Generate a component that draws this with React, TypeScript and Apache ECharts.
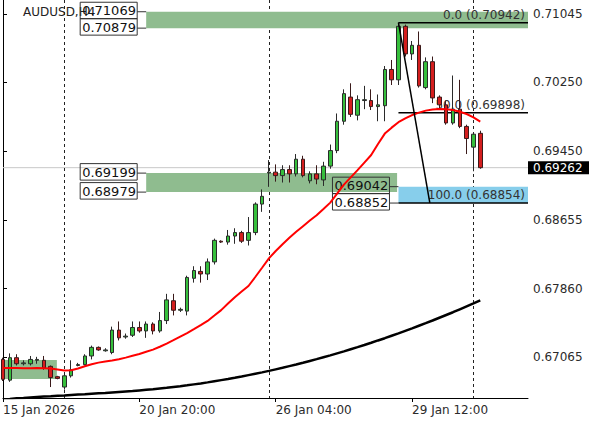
import React, { useEffect, useRef } from 'react';
import * as echarts from 'echarts';

const symbolTitle = 'AUDUSD,H4';
const barCount = 78; // time slots on the axis, incl. the empty space on the right
const xTickLabels = [
  { index: 0, label: '15 Jan 2026' },
  { index: 20, label: '20 Jan 20:00' },
  { index: 40, label: '26 Jan 04:00' },
  { index: 60, label: '29 Jan 12:00' },
];
const separators = [9, 39, 69];
const yTicks = [0.67065, 0.6786, 0.68655, 0.6945, 0.7025, 0.71045];
const yMin = 0.66593;
const yMax = 0.71205;
const lastPrice = 0.69262;

// [open, close, low, high]
const candles = [
  [0.6704, 0.6681, 0.6679, 0.6706],
  [0.668, 0.6706, 0.6678, 0.6711],
  [0.6706, 0.6699, 0.6697, 0.671],
  [0.6699, 0.67, 0.6697, 0.6703],
  [0.6699, 0.6704, 0.6697, 0.6708],
  [0.6703, 0.6704, 0.6699, 0.6707],
  [0.6703, 0.6694, 0.6692, 0.6708],
  [0.6696, 0.6683, 0.6672, 0.6697],
  [0.6684, 0.6682, 0.6681, 0.6685],
  [0.6672, 0.6685, 0.6669, 0.6686],
  [0.6685, 0.6692, 0.6683, 0.6703],
  [0.6697, 0.6698, 0.6696, 0.67],
  [0.6698, 0.6708, 0.6697, 0.671],
  [0.6708, 0.6718, 0.6704, 0.672],
  [0.6718, 0.6715, 0.6714, 0.6719],
  [0.6714, 0.6715, 0.6713, 0.6717],
  [0.6712, 0.6738, 0.671, 0.6742],
  [0.6738, 0.6729, 0.6726, 0.6748],
  [0.673, 0.6731, 0.6728, 0.6734],
  [0.6732, 0.6741, 0.673, 0.6748],
  [0.6741, 0.6737, 0.6735, 0.6748],
  [0.6737, 0.6745, 0.6729, 0.6748],
  [0.6745, 0.6737, 0.6733, 0.6747],
  [0.6737, 0.6749, 0.6735, 0.6759],
  [0.6749, 0.6773, 0.6745, 0.678],
  [0.6772, 0.6761, 0.6755, 0.678],
  [0.6761, 0.6762, 0.6759, 0.6764],
  [0.676, 0.6799, 0.6755, 0.6801],
  [0.6798, 0.6807, 0.6793, 0.6812],
  [0.6806, 0.6803, 0.6793, 0.6812],
  [0.6803, 0.6817, 0.6796, 0.6821],
  [0.6817, 0.6842, 0.6814, 0.6844],
  [0.6841, 0.684, 0.6839, 0.6842],
  [0.684, 0.6847, 0.6837, 0.6854],
  [0.6847, 0.6851, 0.6838, 0.6856],
  [0.6851, 0.6841, 0.6839, 0.6853],
  [0.6842, 0.6851, 0.6836, 0.6869],
  [0.6851, 0.6884, 0.6848, 0.6886],
  [0.6884, 0.6893, 0.6875, 0.6901],
  [0.692, 0.6921, 0.6904, 0.6935],
  [0.6921, 0.6917, 0.691, 0.693],
  [0.6917, 0.6924, 0.6909, 0.6929],
  [0.6924, 0.6919, 0.6909, 0.6929],
  [0.6919, 0.6936, 0.6916, 0.6942],
  [0.6936, 0.6917, 0.6915, 0.694],
  [0.6911, 0.6919, 0.6908, 0.6922],
  [0.6919, 0.6913, 0.6907, 0.6929],
  [0.6912, 0.6928, 0.6905, 0.6933],
  [0.6928, 0.6946, 0.6925, 0.6953],
  [0.6946, 0.698, 0.6943, 0.6989],
  [0.698, 0.7012, 0.6976, 0.7017],
  [0.7008, 0.6988, 0.6985, 0.7024],
  [0.6987, 0.7005, 0.6981, 0.701],
  [0.7004, 0.7005, 0.6994, 0.7021],
  [0.7004, 0.6997, 0.6993, 0.7017],
  [0.6997, 0.6999, 0.698, 0.7011],
  [0.6998, 0.704, 0.698, 0.7044],
  [0.704, 0.7028, 0.7022, 0.7051],
  [0.7028, 0.709, 0.7022, 0.70942],
  [0.709, 0.7058, 0.7055, 0.7092],
  [0.7058, 0.7068, 0.7051, 0.7073],
  [0.7068, 0.7021, 0.7019, 0.7084],
  [0.7019, 0.7049, 0.7017, 0.7054],
  [0.7049, 0.7007, 0.7001, 0.7055],
  [0.7008, 0.6999, 0.6994, 0.701],
  [0.6999, 0.6978, 0.6976, 0.7004],
  [0.6978, 0.6994, 0.6976, 0.7033],
  [0.6994, 0.6974, 0.6972, 0.7028],
  [0.6974, 0.696, 0.6942, 0.6976],
  [0.695, 0.6965, 0.6922, 0.6967],
  [0.6966, 0.69262, 0.6925, 0.6969],
];

const maFast = [
  0.66941, 0.66941, 0.66941, 0.66939, 0.66939, 0.66941, 0.66939, 0.66934, 0.66924, 0.66912, 0.66914,
  0.66935, 0.66961, 0.66984, 0.67003, 0.67016, 0.67027, 0.67043, 0.67061, 0.67082, 0.67103,
  0.67129, 0.67154, 0.67187, 0.67224, 0.67263, 0.67305, 0.67346, 0.67391, 0.67437, 0.67486,
  0.67548, 0.67611, 0.67687, 0.67761, 0.67826, 0.67891, 0.67995, 0.68102, 0.68211, 0.68297,
  0.68375, 0.6845, 0.68519, 0.68584, 0.68649, 0.68711, 0.68783, 0.68857, 0.68962, 0.69066,
  0.69149, 0.69233, 0.69321, 0.69409, 0.69536, 0.69657, 0.69726, 0.69789, 0.69833, 0.69872,
  0.699, 0.69923, 0.69935, 0.69942, 0.6994, 0.6993, 0.6991, 0.69884, 0.69845, 0.69796,
];

const maSlow = [
  0.66576, 0.66582, 0.66589, 0.66594, 0.666, 0.66605, 0.6661, 0.66614, 0.66619, 0.66623, 0.66628,
  0.66633, 0.66637, 0.66642, 0.66647, 0.66651, 0.66657, 0.66663, 0.66669, 0.66674, 0.66681,
  0.66688, 0.66695, 0.66703, 0.66711, 0.66721, 0.6673, 0.6674, 0.66751, 0.66762, 0.66774,
  0.66787, 0.668, 0.66813, 0.66827, 0.66842, 0.66858, 0.66874, 0.6689, 0.66907, 0.66925,
  0.66943, 0.66962, 0.66981, 0.67001, 0.67022, 0.67043, 0.67065, 0.67087, 0.6711, 0.67133,
  0.67158, 0.67182, 0.67207, 0.67233, 0.6726, 0.67286, 0.67314, 0.67342, 0.67371, 0.674,
  0.6743, 0.6746, 0.67491, 0.67523, 0.67555, 0.67587, 0.67621, 0.67655, 0.67689, 0.67724,
];

// rectangles drawn on the chart: bar-index range and price range
const zoneStarts = [21, 21, 58, -1];
const zoneEnds = [77, 57.8, 77, 7.9];
const zoneTops = [0.71069, 0.69199, 0.69042, 0.67032];
const zoneBottoms = [0.70879, 0.68979, 0.68852, 0.66812];
const zoneColors = ['#8fbc8f', '#8fbc8f', '#87ceeb', '#8fbc8f'];
const zoneLabelled = [true, true, true, false];

// Fibonacci retracement
const fibHigh = 0.70942;
const fibLow = 0.68854;
const fibHighIndex = 58;
const fibLowIndex = 62.6;
const fibLevels = [0, 50, 100];

const FONT = '"DejaVu Sans", Verdana, sans-serif';
const categories = Array.from({ length: barCount }, (_, i) => {
  const t = xTickLabels.find((l) => l.index === i);
  return t ? t.label : '';
});

function renderBackground(params: any, api: any) {
  const cs = params.coordSys;
  const left = cs.x;
  const right = cs.x + cs.width;
  const top = cs.y;
  const bottom = cs.y + cs.height;
  const kids: any[] = [];

  const py = api.coord([0, lastPrice])[1];
  kids.push({ type: 'line', shape: { x1: left, y1: py, x2: right, y2: py }, style: { stroke: '#c8c8c8', lineWidth: 1 } });

  separators.forEach((s) => {
    const x = Math.round(api.coord([s, yMin])[0]) + 0.5;
    kids.push({ type: 'line', shape: { x1: x, y1: top, x2: x, y2: bottom }, style: { stroke: '#222', lineWidth: 1, lineDash: [3, 3] } });
  });

  zoneStarts.forEach((x0v, k) => {
    const a = api.coord([x0v, zoneTops[k]]);
    const b = api.coord([zoneEnds[k], zoneBottoms[k]]);
    const x0 = Math.max(a[0], left);
    const x1 = Math.min(b[0], right);
    kids.push({ type: 'rect', shape: { x: x0, y: a[1], width: x1 - x0, height: b[1] - a[1] }, style: { fill: zoneColors[k] } });
    if (zoneLabelled[k]) {
      const pairs: [number, number][] = [
        [zoneTops[k], a[1]],
        [zoneBottoms[k], b[1]],
      ];
      pairs.forEach(([v, y]) => {
        const bx = a[0] - 9 - 57;
        kids.push({ type: 'line', shape: { x1: a[0] - 9, y1: y, x2: a[0], y2: y }, style: { stroke: '#333', lineWidth: 1 } });
        kids.push({ type: 'rect', shape: { x: bx, y: y - 9.5, width: 57, height: 16.5 }, style: { fill: 'none', stroke: '#333', lineWidth: 1 } });
        kids.push({
          type: 'text',
          style: { text: v.toFixed(5), x: bx + 2, y: y - 1, align: 'left', verticalAlign: 'middle', fill: '#111', font: `13px ${FONT}` },
        });
      });
    }
  });

  fibLevels.forEach((lv) => {
    const price = fibHigh - ((fibHigh - fibLow) * lv) / 100;
    const p = api.coord([fibHighIndex, price]);
    kids.push({ type: 'line', shape: { x1: p[0], y1: p[1], x2: right, y2: p[1] }, style: { stroke: '#000', lineWidth: 1.5 } });
    kids.push({
      type: 'text',
      style: {
        text: `${lv.toFixed(1)} (${price.toFixed(5)})`,
        x: right - 3,
        y: p[1] - 1.5,
        align: 'right',
        verticalAlign: 'bottom',
        fill: '#333',
        font: `12px ${FONT}`,
      },
    });
  });

  return { type: 'group', children: kids };
}

function renderForeground(params: any, api: any) {
  const cs = params.coordSys;
  const right = cs.x + cs.width;
  const a = api.coord([fibHighIndex, fibHigh]);
  const b = api.coord([fibLowIndex, fibLow]);
  const py = api.coord([0, lastPrice])[1];
  return {
    type: 'group',
    children: [
      { type: 'line', shape: { x1: a[0], y1: a[1], x2: b[0], y2: b[1] }, style: { stroke: '#000', lineWidth: 1.5 } },
      { type: 'rect', shape: { x: right, y: py - 6.5, width: 61, height: 13 }, style: { fill: '#000' } },
      {
        type: 'text',
        style: { text: lastPrice.toFixed(5), x: right + 5, y: py, align: 'left', verticalAlign: 'middle', fill: '#fff', font: `12px ${FONT}` },
      },
    ],
  };
}

const labelInterval = (_i: number, v: string) => v !== '';

const option: any = {
  animation: false,
  backgroundColor: '#ffffff',
  textStyle: { fontFamily: FONT },
  grid: { left: 3, right: 68, top: 0, bottom: 27 },
  graphic: [
    { type: 'text', left: 23, top: 6, z: 0, style: { text: symbolTitle, fill: '#222', font: `12px ${FONT}` } },
  ],
  xAxis: [
    {
      type: 'category',
      data: categories,
      boundaryGap: false,
      axisLine: { show: true, lineStyle: { color: '#000', width: 1 } },
      axisTick: { show: true, interval: labelInterval, length: 4, lineStyle: { color: '#000' } },
      axisLabel: { interval: labelInterval, align: 'left', color: '#2b2b2b', fontSize: 12, fontFamily: FONT, margin: 6 },
      splitLine: { show: false },
    },
    { type: 'value', min: 0, max: barCount - 1, show: false },
  ],
  yAxis: [
    {
      type: 'value',
      position: 'right',
      min: yMin,
      max: yMax,
      axisLine: { show: true, lineStyle: { color: '#000', width: 1 } },
      axisTick: { show: true, length: 4, customValues: yTicks, lineStyle: { color: '#000' } },
      axisLabel: {
        customValues: yTicks,
        formatter: (v: number) => v.toFixed(5),
        margin: 5,
        fontSize: 12,
        fontFamily: FONT,
        color: '#2b2b2b',
      },
      splitLine: { show: false },
    },
    {
      type: 'value',
      position: 'left',
      min: yMin,
      max: yMax,
      axisLine: { show: true, lineStyle: { color: '#000', width: 1 } },
      axisTick: { show: false },
      axisLabel: { show: false },
      splitLine: { show: false },
    },
  ],
  series: [
    {
      type: 'custom',
      name: 'objects',
      xAxisIndex: 1,
      yAxisIndex: 0,
      z: 1,
      silent: true,
      data: [[0, lastPrice]],
      renderItem: renderBackground,
    },
    {
      type: 'candlestick',
      name: 'AUDUSD',
      xAxisIndex: 0,
      yAxisIndex: 0,
      z: 3,
      barWidth: 4,
      clip: true,
      data: candles,
      itemStyle: {
        color: '#36bf3c',
        color0: '#d41e1e',
        borderColor: '#2a2a2a',
        borderColor0: '#3a1a1a',
        borderWidth: 1,
      },
    },
    {
      type: 'line',
      name: 'MA fast',
      xAxisIndex: 0,
      yAxisIndex: 0,
      z: 4,
      data: maFast,
      showSymbol: false,
      symbol: 'none',
      lineStyle: { color: '#ff0000', width: 2 },
    },
    {
      type: 'line',
      name: 'MA slow',
      xAxisIndex: 0,
      yAxisIndex: 0,
      z: 4,
      data: maSlow,
      showSymbol: false,
      symbol: 'none',
      lineStyle: { color: '#000000', width: 2.5 },
    },
    {
      type: 'custom',
      name: 'fib',
      xAxisIndex: 1,
      yAxisIndex: 0,
      z: 5,
      silent: true,
      data: [[0, lastPrice]],
      renderItem: renderForeground,
    },
  ],
};

export default function App() {
  const ref = useRef<HTMLDivElement>(null);
  useEffect(() => {
    document.body.style.margin = '0';
    const chart = echarts.init(ref.current as HTMLDivElement, undefined, { renderer: 'svg' });
    chart.setOption(option);
    return () => chart.dispose();
  }, []);
  return <div ref={ref} style={{ width: 596, height: 425, position: 'absolute', left: 0, top: 0 }} />;
}
